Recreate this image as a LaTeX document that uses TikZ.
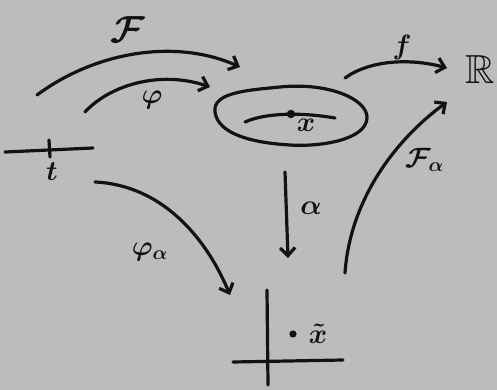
\documentclass[tikz,border=0pt]{standalone}
\usepackage{amssymb}
\usetikzlibrary{arrows.meta}
\definecolor{paper}{RGB}{188,188,188}
\definecolor{ink}{RGB}{18,18,18}
\tikzset{
  pen/.style={draw=ink, line width=3.2pt, line cap=round, line join=round},
  arr/.style={pen, -{Straight Barb[length=8pt,width=15pt,line width=3.2pt]}},
  lbl/.style={text=ink, inner sep=0pt, font=\huge\boldmath, scale=1.35},
}
\begin{document}
\begin{tikzpicture}[x=1pt,y=-1pt]
\fill[paper] (0,0) rectangle (497,390);
\useasboundingbox (0,0) rectangle (497,390);
% coordinates
\coordinate (Fs) at (37,95);   \coordinate (Fe) at (240,67);
\coordinate (ps) at (85,112);  \coordinate (pe) at (210,87);
\coordinate (fs) at (345,78);  \coordinate (fe) at (447,68);
\coordinate (Fas) at (345,273); \coordinate (Fae) at (447,102);
\coordinate (pas) at (95,182); \coordinate (pae) at (230,295);
\coordinate (as) at (285,172); \coordinate (ae) at (288,258);
\coordinate (tl) at (5,152); \coordinate (tr) at (93,148);
\coordinate (tt) at (49,140); \coordinate (tb) at (50,157);
\coordinate (il) at (245,122); \coordinate (ir) at (335,118);
\coordinate (vt) at (267,290); \coordinate (vb) at (268,385);
\coordinate (hl) at (233,362); \coordinate (hr) at (343,360);
% arrows
\draw[arr] (Fs) .. controls (95,52) and (175,38) .. (Fe);
\draw[arr] (ps) .. controls (110,85) and (160,70) .. (pe);
\draw[arr] (fs) .. controls (370,60) and (410,58) .. (fe);
\draw[arr] (Fas) .. controls (350,200) and (395,140) .. (Fae);
\draw[arr] (pas) .. controls (160,185) and (205,235) .. (pae);
\draw[arr] (as) -- (ae);
% t interval
\draw[pen] (tl) -- (tr);
\draw[pen] (tt) -- (tb);
% set
\draw[pen] (215,112) .. controls (212,92) and (250,90) .. (280,87)
  .. controls (330,82) and (368,100) .. (367,118)
  .. controls (366,140) and (320,147) .. (290,145)
  .. controls (255,143) and (218,135) .. cycle;
\draw[pen] (il) .. controls (265,113) and (300,112) .. (ir);
\fill[ink] (291,114) circle (4.2);
% axes
\draw[pen] (vt) -- (vb);
\draw[pen] (hl) -- (hr);
\fill[ink] (293,334) circle (3.6);
% labels
\node[lbl, scale=1.35] (lF) at (128,30) {$\mathcal{F}$};
\node[lbl] (lphi) at (152,100) {$\varphi$};
\node[lbl] (lt) at (52,172) {$t$};
\node[lbl] (lx) at (306,125) {$x$};
\node[lbl] (lf) at (402,48) {$f$};
\node[lbl, scale=1.45] (lR) at (480,70) {$\mathbb{R}$};
\node[lbl] (la) at (311,208) {$\alpha$};
\node[lbl] (lFa) at (425,160) {$\mathcal{F}_{\alpha}$};
\node[lbl] (lpa) at (150,252) {$\varphi_{\alpha}$};
\node[lbl] (lxt) at (318,334) {$\tilde{x}$};
\end{tikzpicture}
\end{document}
